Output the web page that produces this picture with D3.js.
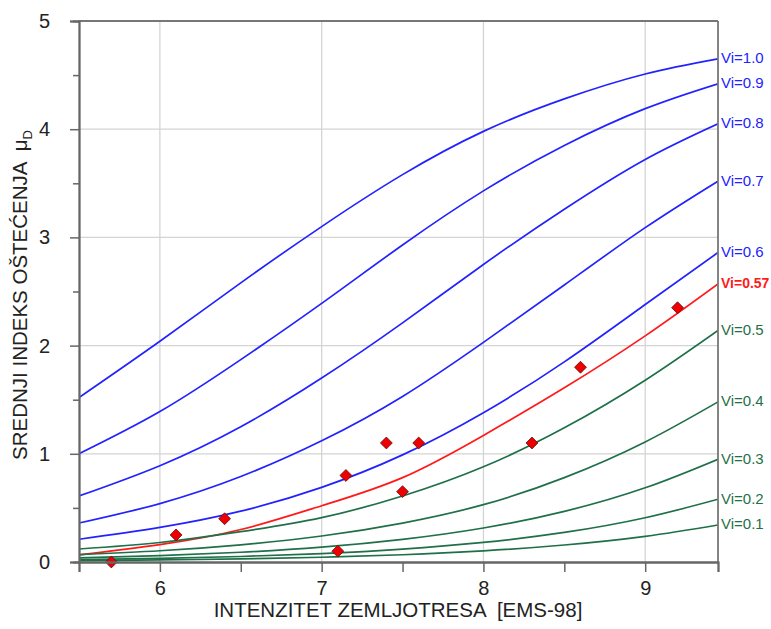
<!DOCTYPE html>
<html>
<head>
<meta charset="utf-8">
<script src="https://cdn.jsdelivr.net/npm/d3@7"></script>
<style>
  html, body { margin: 0; padding: 0; background: #fff; }
  svg { display: block; font-family: "Liberation Sans", Arial, sans-serif; }
  .pre { white-space: pre; }
</style>
</head>
<body>
<svg id="chart" width="771" height="629"></svg>
<script>
// ---- data ----
const intensities = [5.5, 6, 6.5, 7, 7.5, 8, 8.5, 9, 9.45];

const curveLabels = ["Vi=1.0", "Vi=0.9", "Vi=0.8", "Vi=0.7", "Vi=0.6", "Vi=0.57", "Vi=0.5", "Vi=0.4", "Vi=0.3", "Vi=0.2", "Vi=0.1"];
const curveGroups = ["blue", "blue", "blue", "blue", "blue", "red", "green", "green", "green", "green", "green"];

const vi10  = [1.52, 2.04, 2.58, 3.10, 3.58, 3.98, 4.28, 4.51, 4.65];
const vi09  = [1.00, 1.39, 1.87, 2.39, 2.93, 3.43, 3.85, 4.19, 4.42];
const vi08  = [0.61, 0.89, 1.25, 1.70, 2.21, 2.75, 3.26, 3.72, 4.05];
const vi07  = [0.36, 0.54, 0.79, 1.12, 1.53, 2.03, 2.56, 3.09, 3.52];
const vi06  = [0.21, 0.32, 0.47, 0.69, 0.99, 1.38, 1.85, 2.38, 2.86];
const vi057 = [0.065, 0.16, 0.30, 0.52, 0.78, 1.17, 1.61, 2.09, 2.57];
const vi05  = [0.12, 0.18, 0.28, 0.41, 0.61, 0.88, 1.24, 1.68, 2.14];
const vi04  = [0.068, 0.104, 0.159, 0.24, 0.36, 0.53, 0.78, 1.11, 1.48];
const vi03  = [0.038, 0.059, 0.090, 0.137, 0.209, 0.314, 0.468, 0.686, 0.95];
const vi02  = [0.022, 0.033, 0.051, 0.078, 0.119, 0.181, 0.273, 0.409, 0.58];
const vi01  = [0.012, 0.019, 0.029, 0.044, 0.067, 0.103, 0.157, 0.237, 0.342];
const curveValues = [vi10, vi09, vi08, vi07, vi06, vi057, vi05, vi04, vi03, vi02, vi01];

const obsIntensity = [5.7, 6.1, 6.4, 7.1, 7.15, 7.4, 7.5, 7.6, 8.3, 8.6, 9.2];
const obsDamage    = [0.0, 0.25, 0.40, 0.10, 0.80, 1.10, 0.65, 1.10, 1.10, 1.80, 2.35];

const xMajorTicks = [6, 7, 8, 9];
const xMinorTicks = [6.5, 7.5, 8.5];
const yMajorTicks = [0, 1, 2, 3, 4, 5];
const yMinorTicks = [0.5, 1.5, 2.5, 3.5, 4.5];

const xTitle = "INTENZITET ZEMLJOTRESA  [EMS-98]";
const yTitle = "SREDNJI INDEKS OŠTEĆENJA  μ";
const yTitleSub = "D";

// ---- styling / layout ----
const colors = { blue: "#2222ff", green: "#1f7048", red: "#ff1a1a" };
const W = 771, H = 629;
const m = { left: 79, right: 53, top: 21, bottom: 67 };
const iw = W - m.left - m.right, ih = H - m.top - m.bottom;

const svg = d3.select("#chart");
const g = svg.append("g").attr("transform", `translate(${m.left},${m.top})`);

const x = d3.scaleLinear().domain([5.5, 9.45]).range([0, iw]);
const y = d3.scaleLinear().domain([0, 5]).range([ih, 0]);

// gridlines
g.append("g").selectAll("line").data(xMajorTicks).join("line")
  .attr("x1", d => x(d)).attr("x2", d => x(d)).attr("y1", 0).attr("y2", ih)
  .attr("stroke", "#d4d4d4").attr("stroke-width", 1.3);
g.append("g").selectAll("line").data(yMajorTicks.filter(d => d > 0 && d < 5)).join("line")
  .attr("x1", 0).attr("x2", iw).attr("y1", d => y(d)).attr("y2", d => y(d))
  .attr("stroke", "#d4d4d4").attr("stroke-width", 1.3);

// curves
const line = d3.line().x(d => x(d[0])).y(d => y(d[1])).curve(d3.curveNatural);
svg.append("defs").append("clipPath").attr("id", "clip")
  .append("rect").attr("x", 0).attr("y", 0).attr("width", iw).attr("height", ih);
const curvesG = g.append("g").attr("clip-path", "url(#clip)");
curveValues.forEach((vals, i) => {
  const pts = intensities.map((xi, j) => [xi, vals[j]]);
  curvesG.append("path").datum(pts)
    .attr("d", line)
    .attr("fill", "none")
    .attr("stroke", colors[curveGroups[i]])
    .attr("stroke-width", 1.7);
});

// right labels
curveValues.forEach((vals, i) => {
  const last = vals[vals.length - 1];
  const bold = curveGroups[i] === "red";
  g.append("text")
    .attr("x", iw + 3)
    .attr("y", y(last) - 1)
    .attr("dominant-baseline", "central")
    .attr("font-size", bold ? 14 : 15)
    .attr("font-weight", bold ? "bold" : "normal")
    .attr("fill", colors[curveGroups[i]])
    .text(curveLabels[i]);
});

// observed points (diamonds)
const diamond = d3.symbol().type(d3.symbolDiamond2).size(90);
g.append("g").selectAll("path").data(obsIntensity.map((xi, i) => [xi, obsDamage[i]])).join("path")
  .attr("transform", d => `translate(${x(d[0])},${y(d[1])})`)
  .attr("d", diamond)
  .attr("fill", "#ee0000")
  .attr("stroke", "#5a1010")
  .attr("stroke-width", 0.8);

// frame (top + right)
g.append("line").attr("x1", 0).attr("x2", iw).attr("y1", 0).attr("y2", 0)
  .attr("stroke", "#777").attr("stroke-width", 1.8);
g.append("line").attr("x1", iw).attr("x2", iw).attr("y1", 0).attr("y2", ih)
  .attr("stroke", "#777").attr("stroke-width", 1.8);

// axes
function styleAxis(sel) {
  sel.select(".domain").attr("stroke", "#666").attr("stroke-width", 1.8);
  sel.selectAll(".tick line").attr("stroke", "#666").attr("stroke-width", 1.5);
  sel.selectAll(".tick text").attr("fill", "#222").attr("font-size", 20)
    .attr("font-family", "'Liberation Sans', Arial, sans-serif");
}

const xAxisMinor = g.append("g").attr("transform", `translate(0,${ih})`)
  .call(d3.axisBottom(x).tickValues(xMinorTicks).tickSize(10).tickFormat(""));
styleAxis(xAxisMinor);
const xAxis = g.append("g").attr("transform", `translate(0,${ih})`)
  .call(d3.axisBottom(x).tickValues(xMajorTicks).tickSize(10).tickPadding(9).tickFormat(d3.format("d")));
styleAxis(xAxis);

const yAxisMinor = g.append("g")
  .call(d3.axisLeft(y).tickValues(yMinorTicks).tickSize(6).tickFormat(""));
styleAxis(yAxisMinor);
const yAxis = g.append("g")
  .call(d3.axisLeft(y).tickValues(yMajorTicks).tickSize(9).tickPadding(20).tickFormat(d3.format("d")));
styleAxis(yAxis);

// axis titles
svg.append("text")
  .attr("class", "pre")
  .attr("x", 398).attr("y", 617)
  .attr("text-anchor", "middle")
  .attr("font-size", 20.5)
  .attr("fill", "#222")
  .text(xTitle);

const yt = svg.append("text")
  .attr("class", "pre")
  .attr("transform", `translate(27,${295}) rotate(-90)`)
  .attr("text-anchor", "middle")
  .attr("font-size", 20.5)
  .attr("fill", "#222");
yt.append("tspan").text(yTitle);
yt.append("tspan").attr("font-size", 13).attr("dy", 5).text(yTitleSub);
</script>
</body>
</html>
